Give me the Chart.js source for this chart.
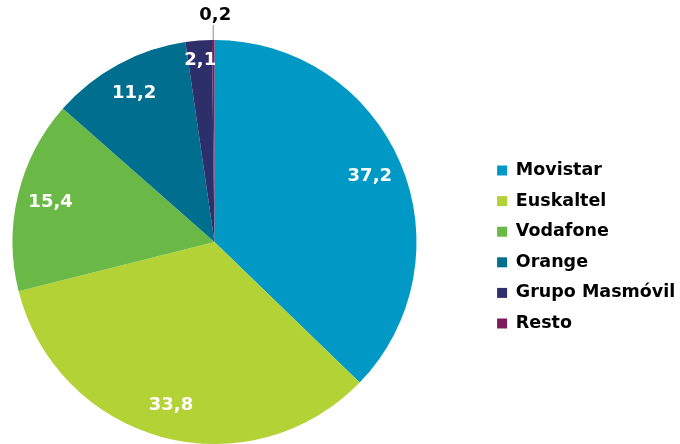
<!DOCTYPE html>
<html>
<head>
<meta charset="utf-8">
<script src="https://cdn.jsdelivr.net/npm/chart.js@4/dist/chart.umd.min.js"></script>
<style>
html, body { margin: 0; padding: 0; background: #fff; }
#wrap { width: 680px; height: 444px; }
</style>
</head>
<body>
<div id="wrap"><canvas id="myChart"></canvas></div>
<script>
var operadores = ['Movistar', 'Euskaltel', 'Vodafone', 'Orange', 'Grupo Masmóvil', 'Resto'];
var cuota = [37.2, 33.8, 15.4, 11.2, 2.1, 0.2];
var colores = ['#0098c4', '#b3d235', '#6ab946', '#006e8f', '#2d2f6b', '#7a1c5b'];

Chart.defaults.font.family = "'DejaVu Sans', Verdana, sans-serif";
Chart.defaults.font.weight = 'bold';
Chart.defaults.font.size = 17;
Chart.defaults.color = '#000';

var fmt = function(v){ return v.toFixed(1).replace('.', ','); };

// values drawn on top of the slices (small one goes outside with a line)
var etiquetas = {
    id: 'etiquetas',
    afterDatasetsDraw: function(chart){
        var ctx = chart.ctx;
        var meta = chart.getDatasetMeta(0);
        ctx.save();
        ctx.font = "bold 18px 'DejaVu Sans'";
        ctx.textAlign = 'center';
        ctx.textBaseline = 'middle';
        meta.data.forEach(function(arc, i){
            var v = cuota[i];
            var mid = (arc.startAngle + arc.endAngle) / 2;
            var r = arc.outerRadius;
            if (v < 1) {
                var ex = arc.x + Math.cos(mid) * r;
                var ey = arc.y + Math.sin(mid) * r;
                ctx.strokeStyle = '#8c8c8c';
                ctx.lineWidth = 1;
                ctx.beginPath();
                ctx.moveTo(ex, ey);
                ctx.lineTo(ex, ey - 15);
                ctx.stroke();
                ctx.fillStyle = '#000';
                ctx.fillText(fmt(v), ex + 2, ey - 25);
            } else {
                var f = v < 5 ? 0.9 : 0.835;
                ctx.fillStyle = '#fff';
                ctx.fillText(fmt(v), arc.x + Math.cos(mid) * r * f, arc.y + Math.sin(mid) * r * f);
            }
        });
        ctx.restore();
    }
};

// legend takes the right part of the canvas, items pushed to the right
var leyenda = {
    id: 'leyenda',
    afterInit: function(chart){
        var l = chart.legend;
        var fit = l.fit;
        l.fit = function(){ fit.call(this); this.width = 251; };
    },
    afterLayout: function(chart){
        var l = chart.legend;
        l.left = 484;
        l.top += 10;
    }
};

var ctx = document.getElementById('myChart').getContext('2d');
var myChart = new Chart(ctx, {
    type: 'pie',
    data: {
        labels: operadores,
        datasets: [{
            data: cuota,
            backgroundColor: colores,
            borderWidth: 0,
            hoverOffset: 0,
            offset: 0
        }]
    },
    options: {
        responsive: true,
        maintainAspectRatio: false,
        animation: false,
        layout: { padding: { top: 40, bottom: 0, left: 0, right: 0 } },
        plugins: {
            legend: {
                position: 'right',
                align: 'center',
                labels: {
                    boxWidth: 10,
                    boxHeight: 10,
                    padding: 13.1,
                    color: '#000',
                    font: { size: 17.5, weight: 'bold' }
                }
            },
            tooltip: { enabled: false }
        }
    },
    plugins: [etiquetas, leyenda]
});
</script>
</body>
</html>
